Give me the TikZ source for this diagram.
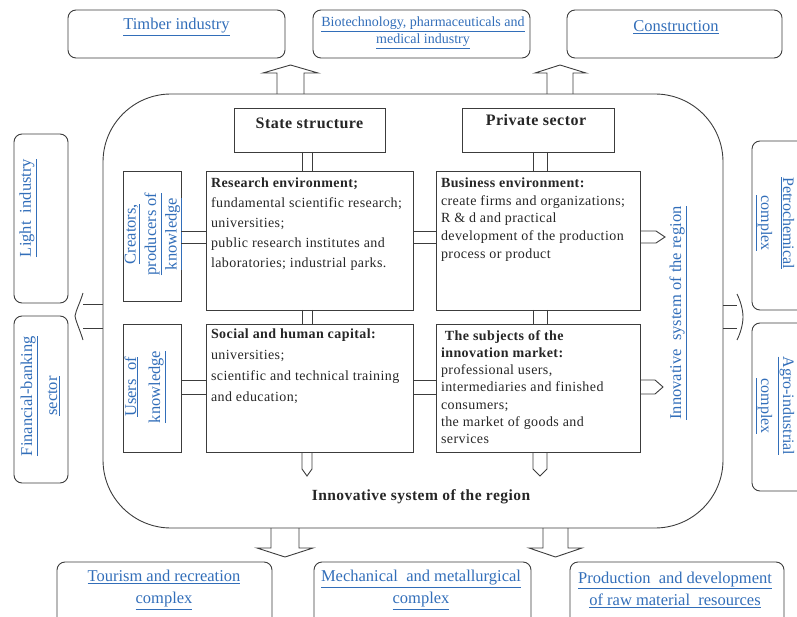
\documentclass[tikz,border=0pt]{standalone}
\usepackage{fontspec}
\setmainfont{Liberation Serif}
\newfontfamily\bodyf[LetterSpace=3]{Liberation Serif}
\usetikzlibrary{calc}
\definecolor{lnk}{RGB}{50,110,185}
\definecolor{ln}{RGB}{60,60,60}
\begin{document}
\begin{tikzpicture}[x=1pt,y=-1pt,
  every node/.style={inner sep=0pt,outer sep=0pt},
  rbox/.style={draw=ln,line width=0.9pt,rounded corners=8pt},
  sqbox/.style={draw=ln,line width=0.9pt},
  bluet/.style={text=lnk,font=\fontsize{16.5}{20}\selectfont,align=center},
  bodyt/.style={font=\bodyf\fontsize{14}{#1}\selectfont,align=left,anchor=north west,text=black!85},
  bodyt/.default=20,
  conn/.style={draw=ln,line width=0.9pt},
  blk/.style={draw=ln,line width=0.9pt,line join=miter},
  titlet/.style={font=\bodyf\bfseries\fontsize{16}{18}\selectfont,text=black!85}]
\useasboundingbox (0,0) rectangle (797,617);

% big system outline
\node[draw=ln,line width=0.9pt,rounded corners=68pt,minimum width=620pt,minimum height=434pt] (isr) at (413,311) {};
\node[titlet,font=\bodyf\bfseries\fontsize{15.5}{18}\selectfont] (isrt) at (421,497) {Innovative system of the region};

% top sector boxes
\node[rbox,minimum width=217pt,minimum height=48pt] (timber) at (176.5,34) {};
\node[rbox,minimum width=217pt,minimum height=48pt] (biotech) at (421.5,34) {};
\node[rbox,minimum width=215pt,minimum height=48pt] (constr) at (674.5,34) {};
\node[bluet] (timbert) at (176.5,27) {\underline{Timber industry}};
\node[bluet,font=\fontsize{14}{17}\selectfont] (biotecht) at (423,33) {\underline{Biotechnology, pharmaceuticals and}\\\underline{medical industry}};
\node[bluet] (constrt) at (676,27) {\underline{Construction}};

% bottom sector boxes
\node[rbox,minimum width=215pt,minimum height=63pt] (tour) at (164.5,593.5) {};
\node[rbox,minimum width=217pt,minimum height=63pt] (mech) at (422.5,593.5) {};
\node[rbox,minimum width=214pt,minimum height=63pt] (prod) at (677,593.5) {};
\node[bluet,font=\fontsize{16.5}{22}\selectfont] (tourt) at (164,590) {\underline{Tourism and recreation}\\\underline{complex}};
\node[bluet,font=\fontsize{16.5}{22}\selectfont] (mecht) at (421,590) {\underline{Mechanical\ \ and metallurgical}\\\underline{complex}};
\node[bluet,font=\fontsize{16.5}{22}\selectfont] (prodt) at (675,590) {\underline{Production\ \ and development}\\\underline{of raw material\ \ resources}};

% left sector boxes
\node[rbox,minimum width=54pt,minimum height=169pt] (light) at (41,218.5) {};
\node[rbox,minimum width=54pt,minimum height=167pt] (fin) at (41,399.5) {};
\node[bluet,rotate=90] (lightt) at (28,208) {\underline{Light\ \ industry}};
\node[bluet,rotate=90,font=\fontsize{16.5}{25}\selectfont] (fint) at (40,396) {\underline{Financial-banking}\\\underline{sector}};

% right sector boxes
\node[rbox,minimum width=68pt,minimum height=169pt] (petro) at (786,225.5) {};
\node[rbox,minimum width=68pt,minimum height=168pt] (agro) at (786,407) {};
\node[bluet,rotate=-90,font=\fontsize{16}{22}\selectfont] (petrot) at (775,223) {\underline{Petrochemical}\\\underline{complex}};
\node[bluet,rotate=-90,font=\fontsize{16}{22}\selectfont] (agrot) at (775,406) {\underline{Agro-industrial}\\\underline{complex}};

% inner structure
\node[sqbox,minimum width=151pt,minimum height=44pt] (state) at (309.5,130) {};
\node[titlet] (statet) at (309.5,123) {State structure};
\node[sqbox,minimum width=152pt,minimum height=44pt] (priv) at (538,130) {};
\node[titlet] (privt) at (536,120) {Private sector};

\node[sqbox,minimum width=58pt,minimum height=130pt] (creat) at (152,236) {};
\node[sqbox,minimum width=207pt,minimum height=139pt] (research) at (309.5,240.5) {};
\node[sqbox,minimum width=204pt,minimum height=139pt] (business) at (538,240.5) {};
\node[sqbox,minimum width=58pt,minimum height=128pt] (users) at (152,388) {};
\node[sqbox,minimum width=207pt,minimum height=128pt] (social) at (309.5,388) {};
\node[sqbox,minimum width=204pt,minimum height=128pt] (subj) at (538,388) {};

\node[bluet,rotate=90,font=\fontsize{16.5}{20.5}\selectfont] (creatt) at (153.5,234) {\underline{Creators,}\\\underline{producers of}\\\underline{knowledge}};
\node[bluet,rotate=90,font=\fontsize{16.5}{24}\selectfont] (userst) at (145,387) {\underline{Users\ \ of}\\\underline{knowledge}};
\node[bluet,rotate=90] (isrv) at (678,313) {\underline{Innovative\ \ system of the region}};

\node[bodyt=20] (researcht) at (211,177.5) {\textbf{Research environment;}\\fundamental scientific research;\\universities;\\public research institutes and\\laboratories; industrial parks.};
\node[bodyt=17.8] (businesst) at (441,177.5) {\textbf{Business environment:}\\create firms and organizations;\\R \& d and practical\\development of the production\\process or product};
\node[bodyt=21] (socialt) at (211,328.5) {\textbf{Social and human capital:}\\universities;\\scientific and technical training\\and education;};
\node[bodyt=17.2] (subjt) at (441,330.5) {\ \textbf{The subjects of the}\\\textbf{innovation market:}\\professional users,\\intermediaries and finished\\consumers;\\the market of goods and\\services};

% double-line connectors
\foreach \s in {-7,3} {
  \draw[conn] ([xshift=\s pt]state.south) -- ([xshift=\s pt]state.south |- research.north);
  \draw[conn] ([xshift=\s pt]research.south) -- ([xshift=\s pt]research.south |- social.north);
}
\foreach \s in {-5,9} {
  \draw[conn] ([xshift=\s pt]priv.south) -- ([xshift=\s pt]priv.south |- business.north);
  \draw[conn] ([xshift=\s pt]business.south) -- ([xshift=\s pt]business.south |- subj.north);
}
\foreach \s in {9.5,-2.5} {
  \draw[conn] ([yshift=\s pt]research.west) -- ([yshift=\s pt]research.west -| creat.east);
  \draw[conn] ([yshift=\s pt]research.east) -- ([yshift=\s pt]research.east -| business.west);
}
\foreach \s in {8,-6} {
  \draw[conn] ([yshift=\s pt]social.west) -- ([yshift=\s pt]social.west -| users.east);
  \draw[conn] ([yshift=\s pt]social.east) -- ([yshift=\s pt]social.east -| subj.west);
}

% small block arrows from inner boxes
\draw[blk] (640,231) -- (656,231) -- (665,237) -- (656,243) -- (640,243);
\draw[blk] (640,380) -- (655,380) -- (663,387) -- (655,394) -- (640,394);
\draw[blk] (302,452) -- (302,469) -- (307,476) -- (312,469) -- (312,452);
\draw[blk] (533,452) -- (533,469) -- (540,476) -- (547,469) -- (547,452);

% big block arrows out of the system
\draw[blk] (277,94) -- (277,73) -- (263,73) -- (290.5,65) -- (318,73) -- (304,73) -- (304,94);
\draw[blk] (547,94) -- (547,73) -- (535,73) -- (560,65) -- (586,73) -- (573,73) -- (573,94);
\draw[blk] (271,528) -- (271,548) -- (257,548) -- (285,557) -- (313,548) -- (299,548) -- (299,528);
\draw[blk] (543,528) -- (543,548) -- (529,548) -- (555.5,557) -- (582,548) -- (568,548) -- (568,528);
\draw[blk] (103,304) -- (83,304);
\draw[blk] (103,328) -- (83,328);
\draw[blk] (83,293) .. controls (80,303) and (76,310) .. (75,316) .. controls (76,322) and (80,330) .. (83,340);
\draw[blk] (723,305) -- (737,305);
\draw[blk] (723,328) -- (737,328);
\draw[blk] (737,294) .. controls (740,300) and (743,309) .. (743,317) .. controls (743,325) and (740,334) .. (737,340);
\end{tikzpicture}
\end{document}
